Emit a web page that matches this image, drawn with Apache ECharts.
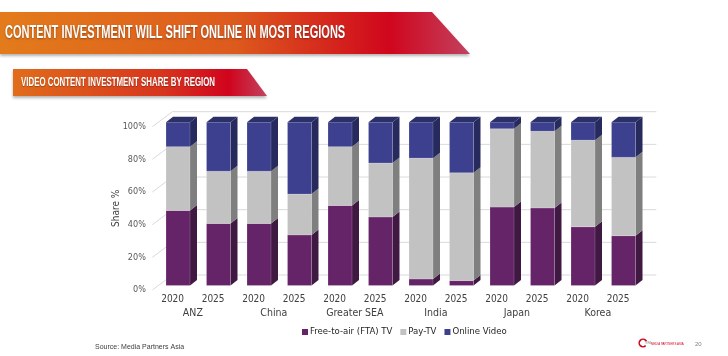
<!DOCTYPE html>
<html>
<head>
<meta charset="utf-8">
<script src="https://cdn.jsdelivr.net/npm/echarts@6/dist/echarts.min.js"></script>
<style>html,body{margin:0;padding:0;background:#fff}#c{width:728px;height:356px}</style>
</head>
<body>
<div id="c"></div>
<script>
// ---- data ----
var years = ['2020','2025','2020','2025','2020','2025','2020','2025','2020','2025','2020','2025'];
var regions = ['ANZ','China','Greater SEA','India','Japan','Korea'];
var fta    = [46, 38, 38, 31, 49, 42, 4, 3, 48, 47.5, 36, 30.5];
var payTv  = [39, 32, 32, 25, 36, 33, 74, 66, 48, 47, 53, 48];
var online = [15, 30, 30, 44, 15, 25, 22, 31, 4, 5.5, 11, 21.5];
var yTicks = [0, 20, 40, 60, 80, 100];
var seriesNames = ['Free-to-air (FTA) TV', 'Pay-TV', 'Online Video'];

var FONT = "'DejaVu Sans Condensed','Liberation Sans Narrow',sans-serif";
var BX = 5.4, BY = -4.5, BW = 24, DX = 7, DY = -5.5;
var WALLX = 20, WALLY = -15, WALLW = 504;

var palettes = [
  {front:'#662468', side:'#3f1942', top:'#4a1d4d'},
  {front:'#c2c2c2', side:'#7f7f7f', top:'#a0a0a0'},
  {front:'#3c408e', side:'#272a5c', top:'#2c3068'}
];

function stackData(k) {
  var arrs = [fta, payTv, online];
  return years.map(function (y, i) {
    var lo = 0;
    for (var j = 0; j < k; j++) lo += arrs[j][i];
    return [i, lo, lo + arrs[k][i]];
  });
}

function makeRender(pal, isTop) {
  return function (params, api) {
    var i = api.value(0), lo = api.value(1), hi = api.value(2);
    var p0 = api.coord([i, lo]), p1 = api.coord([i, hi]);
    var cx = p0[0] + BX, x0 = cx - BW / 2, x1 = cx + BW / 2;
    var yb = p0[1] + BY, yt = p1[1] + BY;
    var ch = [
      {type:'polygon', shape:{points:[[x1,yb],[x1,yt],[x1+DX,yt+DY],[x1+DX,yb+DY]]}, style:{fill:pal.side}},
      {type:'rect', shape:{x:x0, y:yt, width:BW, height:yb-yt}, style:{fill:pal.front, stroke:'rgba(255,255,255,0.35)', lineWidth:0.5}}
    ];
    if (isTop) {
      ch.push({type:'polygon', shape:{points:[[x0,yt],[x1,yt],[x1+DX,yt+DY],[x0+DX,yt+DY]]}, style:{fill:pal.top}});
    }
    return {type:'group', children: ch};
  };
}

function wallRender(params, api) {
  var v = api.value(1);
  var y = api.coord([0, v])[1];
  var gx = params.coordSys.x;
  return {type:'group', children:[
    {type:'line', shape:{x1:gx, y1:y, x2:gx+WALLX, y2:y+WALLY}, style:{stroke:'#d9d9d9', lineWidth:1}},
    {type:'line', shape:{x1:gx+WALLX, y1:y+WALLY, x2:gx+WALLW, y2:y+WALLY}, style:{stroke:'#d9d9d9', lineWidth:1}}
  ]};
}

var chart = echarts.init(document.getElementById('c'), null, {renderer:'canvas'});

var titleGrad = new echarts.graphic.LinearGradient(0, 0, 1, 0, [
  {offset:0, color:'#e37b1b'}, {offset:0.5, color:'#dd5a1d'}, {offset:0.83, color:'#d0061d'}, {offset:1, color:'#c2415f'}
]);
var subGrad = new echarts.graphic.LinearGradient(0, 0, 1, 0, [
  {offset:0, color:'#e06d1b'}, {offset:0.6, color:'#d7331d'}, {offset:0.85, color:'#d0041d'}, {offset:1, color:'#c2435f'}
]);

var option = {
  animation: false,
  textStyle: {fontFamily: FONT},
  graphic: [
    {type:'polygon', shape:{points:[[0,12],[432,12],[470,54],[0,54]]}, style:{fill:titleGrad, shadowBlur:3, shadowOffsetY:2, shadowColor:'rgba(0,0,0,0.3)'}, z:10},
    {type:'text', x:5, y:33.5, scaleX:0.613, style:{text:'CONTENT INVESTMENT WILL SHIFT ONLINE IN MOST REGIONS', fill:'#fff', font:"bold 18px 'Liberation Sans',Arial,sans-serif", verticalAlign:'middle', textShadowColor:'rgba(0,0,0,0.35)', textShadowBlur:2, textShadowOffsetY:1}, z:11},
    {type:'polygon', shape:{points:[[13,69],[247,69],[267,96],[13,96]]}, style:{fill:subGrad, shadowBlur:3, shadowOffsetY:2, shadowColor:'rgba(0,0,0,0.3)'}, z:10},
    {type:'text', x:21, y:82.5, scaleX:0.657, style:{text:'VIDEO CONTENT INVESTMENT SHARE BY REGION', fill:'#fff', font:"bold 12px 'Liberation Sans',Arial,sans-serif", verticalAlign:'middle', textShadowColor:'rgba(0,0,0,0.3)', textShadowBlur:1, textShadowOffsetY:1}, z:11},
    {type:'text', x:95, y:347, style:{text:'Source: Media Partners Asia', fill:'#404040', font:"7px 'Liberation Sans',Arial,sans-serif", verticalAlign:'middle'}},
    {type:'arc', shape:{cx:643, cy:343, r:3.8, startAngle:Math.PI*0.25, endAngle:Math.PI*1.85}, style:{stroke:'#d0021b', lineWidth:1.6, fill:null}},
    {type:'text', x:645.5, y:343.5, style:{text:'MPA', fill:'#909090', font:"2.6px 'Liberation Sans',Arial,sans-serif", verticalAlign:'middle'}},
    {type:'text', x:651, y:343.5, scaleX:0.8, style:{text:'MEDIA PARTNERS ASIA', fill:'#d0021b', font:"3.6px 'Liberation Sans',Arial,sans-serif", verticalAlign:'middle'}},
    {type:'text', x:695, y:344, style:{text:'20', fill:'#808080', font:"6px 'Liberation Sans',Arial,sans-serif", verticalAlign:'middle'}}
  ],
  legend: {
    data: seriesNames,
    left: 297, top: 322,
    icon: 'rect', itemWidth: 6, itemHeight: 6, itemGap: 8,
    textStyle: {fontFamily: FONT, fontSize: 9.5, color: '#262626', padding:[0,0,0,-3]}
  },
  grid: {left: 152.35, width: 486, top: 126.7, height: 163.3, containLabel: false},
  xAxis: [
    {type:'category', data: years, axisLine:{show:false}, axisTick:{show:false}, splitLine:{show:false},
     axisLabel:{margin:4, fontSize:10, color:'#404040', fontFamily:FONT, interval:0}},
    {type:'category', data: regions, position:'bottom', axisLine:{show:false}, axisTick:{show:false}, splitLine:{show:false},
     axisLabel:{margin:18, fontSize:10.5, color:'#404040', fontFamily:FONT, interval:0}}
  ],
  yAxis: {
    type:'value', min:0, max:100, interval:20,
    name:'Share %', nameLocation:'middle', nameRotate:90, nameGap:31, nameMoveOverlap:false,
    nameTextStyle:{fontSize:10, color:'#404040', fontFamily:FONT},
    axisLine:{show:false}, axisTick:{show:false}, splitLine:{show:false},
    axisLabel:{formatter:'{value}%', margin:6.5, fontSize:9, color:'#595959', fontFamily:FONT}
  },
  series: [
    {type:'custom', name:'wall', renderItem: wallRender, data: yTicks.map(function (t) { return [0, t]; }), z:1, silent:true, legendHoverLink:false},
    {type:'custom', name:seriesNames[0], renderItem: makeRender(palettes[0], false), data: stackData(0), itemStyle:{color:palettes[0].front}, z:2},
    {type:'custom', name:seriesNames[1], renderItem: makeRender(palettes[1], false), data: stackData(1), itemStyle:{color:palettes[1].front}, z:3},
    {type:'custom', name:seriesNames[2], renderItem: makeRender(palettes[2], true), data: stackData(2), itemStyle:{color:palettes[2].front}, z:4}
  ]
};
chart.setOption(option);
</script>
</body>
</html>
